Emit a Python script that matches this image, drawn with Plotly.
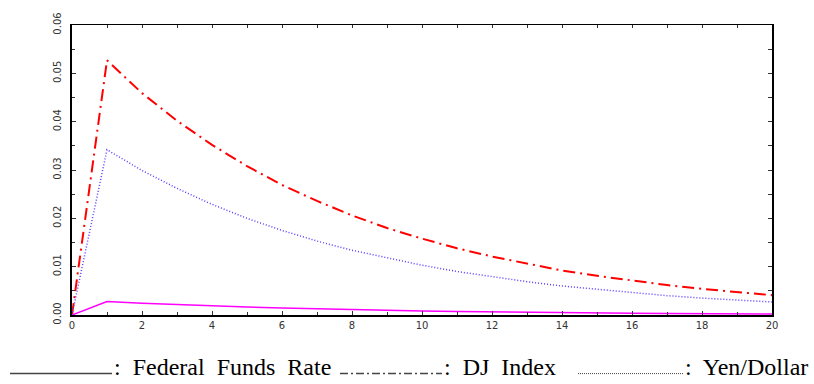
import plotly.graph_objects as go

horizon = list(range(0, 21))

fed_funds = [0.0, 0.0028, 0.00245, 0.00214, 0.00188, 0.00164, 0.00144, 0.00126, 0.00110,
             0.00096, 0.00084, 0.00074, 0.00064, 0.00056, 0.00049, 0.00043, 0.00038,
             0.00033, 0.00029, 0.00025, 0.00022]
dj_index = [0.0, 0.0527, 0.0459, 0.0402, 0.0352, 0.0308, 0.0269, 0.0236, 0.0206, 0.0180,
            0.0158, 0.0138, 0.0121, 0.0106, 0.0092, 0.0081, 0.0071, 0.0062, 0.0054,
            0.0047, 0.0041]
yen_dollar = [0.0, 0.0342, 0.0299, 0.0262, 0.0229, 0.0200, 0.0175, 0.0153, 0.0134, 0.0118,
              0.0103, 0.0090, 0.0079, 0.0069, 0.0060, 0.0053, 0.0046, 0.0040, 0.0035,
              0.0031, 0.0027]

x_ticks = list(range(0, 21, 2))
y_ticks = [0.00, 0.01, 0.02, 0.03, 0.04, 0.05, 0.06]
y_labels = ["0.00", "0.01", "0.02", "0.03", "0.04", "0.05", "0.06"]

legend_items = [
    ("Federal Funds Rate", "solid"),
    ("DJ Index", "8px,3px,2px,3px"),
    ("Yen/Dollar", "1px,1px"),
]

fig = go.Figure()
fig.add_trace(go.Scatter(x=horizon, y=dj_index, mode="lines", name="DJ Index",
                         line=dict(color="#ff0000", width=2, dash="12px,5px,2px,5px")))
fig.add_trace(go.Scatter(x=horizon, y=yen_dollar, mode="lines", name="Yen/Dollar",
                         line=dict(color="#5a3cff", width=1.5, dash="1px,2px")))
fig.add_trace(go.Scatter(x=horizon, y=fed_funds, mode="lines", name="Federal Funds Rate",
                         line=dict(color="#ff00ff", width=1.5)))
fig.add_trace(go.Scatter(x=[None], y=[None], xaxis="x2", yaxis="y2", showlegend=False,
                         hoverinfo="skip"))

tick_font = dict(family="DejaVu Sans", size=10, color="#333333")

fig.update_layout(
    width=814, height=384,
    margin=dict(l=72, r=42, t=18, b=69),
    paper_bgcolor="white", plot_bgcolor="white",
    showlegend=False,
    xaxis=dict(range=[0, 20], tickvals=x_ticks, ticks="inside", ticklen=4,
               tickcolor="#333", showline=True, linecolor="black", linewidth=2,
               showgrid=False, zeroline=False, tickfont=tick_font,
               minor=dict(dtick=1, ticks="inside", ticklen=3, tickcolor="#333")),
    yaxis=dict(range=[0, 0.06], tickvals=y_ticks, ticktext=y_labels, tickangle=-90,
               ticks="inside", ticklen=4, tickcolor="#333", showline=True,
               linecolor="black", linewidth=2, showgrid=False, zeroline=False,
               tickfont=tick_font, ticklabelstandoff=5,
               minor=dict(dtick=0.005, ticks="inside", ticklen=3, tickcolor="#333")),
    xaxis2=dict(range=[0, 20], overlaying="x", side="top", anchor="y", dtick=1,
                ticks="inside", ticklen=3, tickcolor="#333", showticklabels=False,
                showline=True, linecolor="black", linewidth=1, showgrid=False,
                zeroline=False),
    yaxis2=dict(range=[0, 0.06], overlaying="y", side="right", anchor="x", dtick=0.005,
                ticks="inside", ticklen=4, tickcolor="#333", showticklabels=False,
                showline=True, linecolor="black", linewidth=2, showgrid=False,
                zeroline=False),
)

W, H = 700.0, 297.0
def px(x):
    return (x - 72) / W
def py(y):
    return (315 - y) / H

segments = [(10, 112), (340, 442), (578, 683)]
for (label, dash), (x0, x1) in zip(legend_items, segments):
    fig.add_shape(type="line", xref="paper", yref="paper",
                  x0=px(x0), x1=px(x1), y0=py(375), y1=py(375),
                  line=dict(color="#444444", width=1.5 if dash != "1px,1px" else 1,
                            dash=dash))
    fig.add_annotation(xref="paper", yref="paper", x=px(x1), y=py(368),
                       xanchor="left", yanchor="middle", showarrow=False,
                       text=":  " + label.replace(" ", "  "),
                       font=dict(family="Liberation Serif", size=24, color="black"))

fig.write_html("out.html")
